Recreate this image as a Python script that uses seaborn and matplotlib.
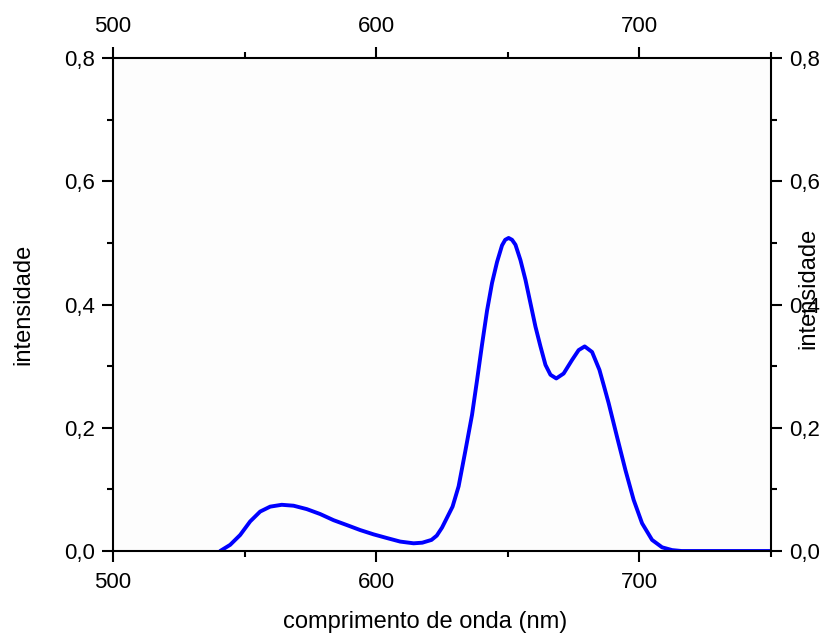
import matplotlib
matplotlib.use("Agg")
import matplotlib.pyplot as plt
from matplotlib.ticker import FixedLocator, FuncFormatter
import seaborn as sns
import pandas as pd

# Emission spectrum: wavelength (nm) and intensity
wavelength = [540.7, 544.5, 548.3, 552.1, 555.9, 559.7, 564.1, 568.6, 573.6, 578.7,
              583.8, 588.9, 593.9, 599.0, 604.1, 609.1, 614.2, 617.5, 621.0, 623.0,
              625.0, 627.0, 629.0, 631.3, 633.8, 636.4, 638.3, 640.2, 642.1, 644.0,
              645.9, 647.8, 649.0, 650.3, 651.6, 652.9, 654.8, 656.7, 658.6, 660.5,
              662.4, 664.3, 666.2, 668.4, 671.2, 674.4, 676.9, 679.2, 682.0, 684.8,
              686.5, 688.3, 691.5, 694.7, 697.8, 701.0, 704.8, 708.6, 712.4, 716.0,
              750.0]
intensity = [0.000, 0.010, 0.026, 0.048, 0.064, 0.072, 0.075, 0.0735, 0.068, 0.060,
             0.050, 0.042, 0.034, 0.027, 0.021, 0.0153, 0.0125, 0.0135, 0.018, 0.025,
             0.038, 0.055, 0.072, 0.105, 0.161, 0.221, 0.277, 0.335, 0.390, 0.435,
             0.469, 0.496, 0.505, 0.508, 0.505, 0.497, 0.472, 0.440, 0.402, 0.364,
             0.332, 0.302, 0.286, 0.280, 0.288, 0.310, 0.326, 0.332, 0.323, 0.294,
             0.268, 0.240, 0.185, 0.131, 0.083, 0.045, 0.018, 0.006, 0.0015, 0.000,
             0.000]

x_major = [500, 600, 700]
x_minor = [550, 650, 750]
y_major = [0.0, 0.2, 0.4, 0.6, 0.8]
y_minor = [0.1, 0.3, 0.5, 0.7]

x_label = "comprimento de onda (nm)"
y_label = "intensidade"

sns.set_theme(style="ticks")
plt.rcParams["font.family"] = ["Liberation Sans", "DejaVu Sans"]

df = pd.DataFrame({"wavelength": wavelength, "intensity": intensity})

fig = plt.figure(figsize=(8.22, 6.39), dpi=100)
ax = fig.add_axes([0.1375, 0.1377, 0.8005, 0.7715])
ax.set_facecolor("#fdfdfd")

sns.lineplot(data=df, x="wavelength", y="intensity", ax=ax,
             color="#0000ff", linewidth=2.8, estimator=None, sort=False)
ax.lines[-1].set_solid_joinstyle("round")
ax.lines[-1].set_solid_capstyle("round")

ax.set_xlim(500, 750)
ax.set_ylim(0, 0.8)

ax.xaxis.set_major_locator(FixedLocator(x_major))
ax.xaxis.set_minor_locator(FixedLocator(x_minor))
ax.yaxis.set_major_locator(FixedLocator(y_major))
ax.yaxis.set_minor_locator(FixedLocator(y_minor))
ax.yaxis.set_major_formatter(FuncFormatter(lambda v, p: f"{v:.1f}".replace(".", ",")))
ax.xaxis.set_major_formatter(FuncFormatter(lambda v, p: f"{v:.0f}"))

for s in ax.spines.values():
    s.set_visible(True)
    s.set_linewidth(1.5)
    s.set_color("black")

ax.tick_params(axis="both", which="both", direction="out", color="black",
               top=True, right=True, labeltop=True, labelright=True,
               width=1.5, labelsize=16, labelcolor="black")
ax.tick_params(axis="both", which="major", length=8)
ax.tick_params(axis="both", which="minor", length=4.5)
ax.tick_params(axis="x", which="major", pad=7)
ax.tick_params(axis="y", which="major", pad=5)

ax.set_xlabel(x_label, fontsize=17, color="black")
ax.xaxis.set_label_coords(0.474, -0.121)
ax.set_ylabel(y_label, fontsize=17, color="black")
ax.yaxis.set_label_coords(-0.119, 0.5)
fig.text(0.983, 0.548, y_label, rotation=90, ha="center", va="center",
         fontsize=17, color="black")

fig.savefig("out.png", dpi=100)
